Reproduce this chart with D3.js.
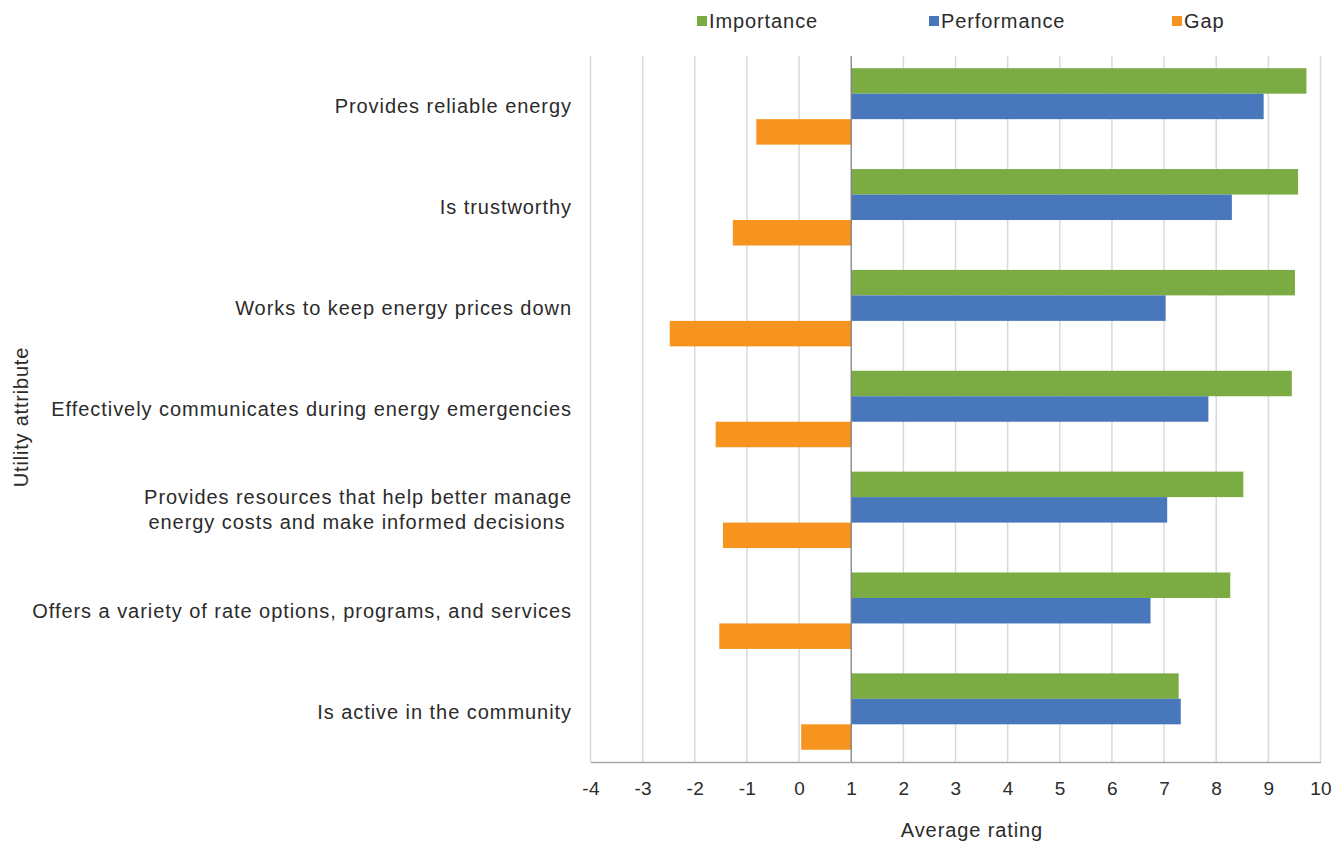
<!DOCTYPE html>
<html>
<head>
<meta charset="utf-8">
<script src="https://cdn.jsdelivr.net/npm/d3@7"></script>
<style>
  html, body { margin: 0; padding: 0; background: #fff; }
  svg { display: block; }
  text { font-family: "Liberation Sans", Arial, sans-serif; fill: #2b2b2b; }
</style>
</head>
<body>
<svg id="chart" width="1344" height="844"></svg>
<script>
// ---- data ----
const categories = [
  "Provides reliable energy",
  "Is trustworthy",
  "Works to keep energy prices down",
  "Effectively communicates during energy emergencies",
  "Provides resources that help better manage energy costs and make informed decisions",
  "Offers a variety of rate options, programs, and services",
  "Is active in the community"
];
const categoryLines = [
  ["Provides reliable energy"],
  ["Is trustworthy"],
  ["Works to keep energy prices down"],
  ["Effectively communicates during energy emergencies"],
  ["Provides resources that help better manage", "energy costs and make informed decisions\u00a0"],
  ["Offers a variety of rate options, programs, and services"],
  ["Is active in the community"]
];
const seriesNames = ["Importance", "Performance", "Gap"];
const importance  = [9.73, 9.57, 9.51, 9.45, 8.52, 8.27, 7.28];
const performance = [8.91, 8.30, 7.03, 7.85, 7.06, 6.74, 7.32];
const gap         = [-0.82, -1.27, -2.48, -1.60, -1.46, -1.53, 0.04];
const xTickValues = [-4, -3, -2, -1, 0, 1, 2, 3, 4, 5, 6, 7, 8, 9, 10];
const axisCross = 1;
const colors = ["#7BAC43", "#4877BC", "#F7941F"];

// ---- layout ----
const svg = d3.select("#chart");
const plotL = 590.5, plotR = 1320.5, plotT = 56, plotB = 762;

const x = d3.scaleLinear().domain([-4, 10]).range([plotL, plotR]);
const y = d3.scaleBand().domain(categories).range([plotT, plotB]);
const bw = y.bandwidth();
const inner = d3.scaleBand().domain(seriesNames).range([bw * 0.121, bw * 0.879]);

const seriesData = seriesNames.map((name, i) => ({
  name, color: colors[i],
  values: [importance, performance, gap][i]
}));

// gridlines
svg.append("g")
  .selectAll("line")
  .data(xTickValues.filter(v => v !== axisCross))
  .join("line")
  .attr("x1", d => x(d)).attr("x2", d => x(d))
  .attr("y1", plotT).attr("y2", plotB)
  .attr("stroke", "#d9d9d9").attr("stroke-width", 1.5);

// bars
const gBars = svg.append("g");
seriesData.forEach(s => {
  gBars.append("g").selectAll("rect")
    .data(s.values.map((v, i) => ({ v, cat: categories[i] })))
    .join("rect")
    .attr("x", d => Math.min(x(axisCross), x(d.v)))
    .attr("width", d => Math.abs(x(d.v) - x(axisCross)))
    .attr("y", d => y(d.cat) + inner(s.name))
    .attr("height", inner.bandwidth())
    .attr("fill", s.color);
});

// vertical axis line at crossing
svg.append("line")
  .attr("x1", x(axisCross)).attr("x2", x(axisCross))
  .attr("y1", plotT).attr("y2", plotB)
  .attr("stroke", "#808080").attr("stroke-width", 1.3);

// x axis
const xAxis = d3.axisBottom(x).tickValues(xTickValues).tickSize(0).tickPadding(0)
  .tickFormat(d => String(d));
const gx = svg.append("g").attr("transform", `translate(0,${plotB})`).call(xAxis);
gx.select(".domain").attr("stroke", "#a6a6a6").attr("stroke-width", 1.5);
gx.selectAll(".tick text")
  .attr("y", 33)
  .attr("dy", 0)
  .style("font-size", "19px")
  .style("font-family", "'Liberation Sans', Arial, sans-serif")
  .style("letter-spacing", "0.3px")
  .attr("fill", "#2b2b2b");

// category labels
const gy = svg.append("g");
categories.forEach((c, i) => {
  const lines = categoryLines[i];
  const cy = y(c) + bw / 2;
  const lh = 25;
  const t = gy.append("text")
    .attr("text-anchor", "end")
    .style("font-size", "20px")
    .style("letter-spacing", "0.95px");
  lines.forEach((ln, j) => {
    t.append("tspan")
      .attr("x", 572)
      .attr("y", cy + (j - (lines.length - 1) / 2) * lh + 7)
      .text(ln);
  });
});

// axis titles
svg.append("text")
  .attr("x", 972).attr("y", 837)
  .attr("text-anchor", "middle")
  .style("font-size", "20px")
  .style("letter-spacing", "0.9px")
  .text("Average rating");

svg.append("text")
  .attr("transform", `translate(28,417) rotate(-90)`)
  .attr("text-anchor", "middle")
  .style("font-size", "20px")
  .style("letter-spacing", "0.8px")
  .text("Utility attribute");

// legend
const legendX = [697, 929, 1172];
const lg = svg.append("g");
seriesData.forEach((s, i) => {
  lg.append("rect")
    .attr("x", legendX[i]).attr("y", 16)
    .attr("width", 10).attr("height", 10)
    .attr("fill", s.color);
  lg.append("text")
    .attr("x", legendX[i] + 12).attr("y", 28)
    .style("font-size", "20px")
    .style("letter-spacing", "0.9px")
    .text(s.name);
});
</script>
</body>
</html>
